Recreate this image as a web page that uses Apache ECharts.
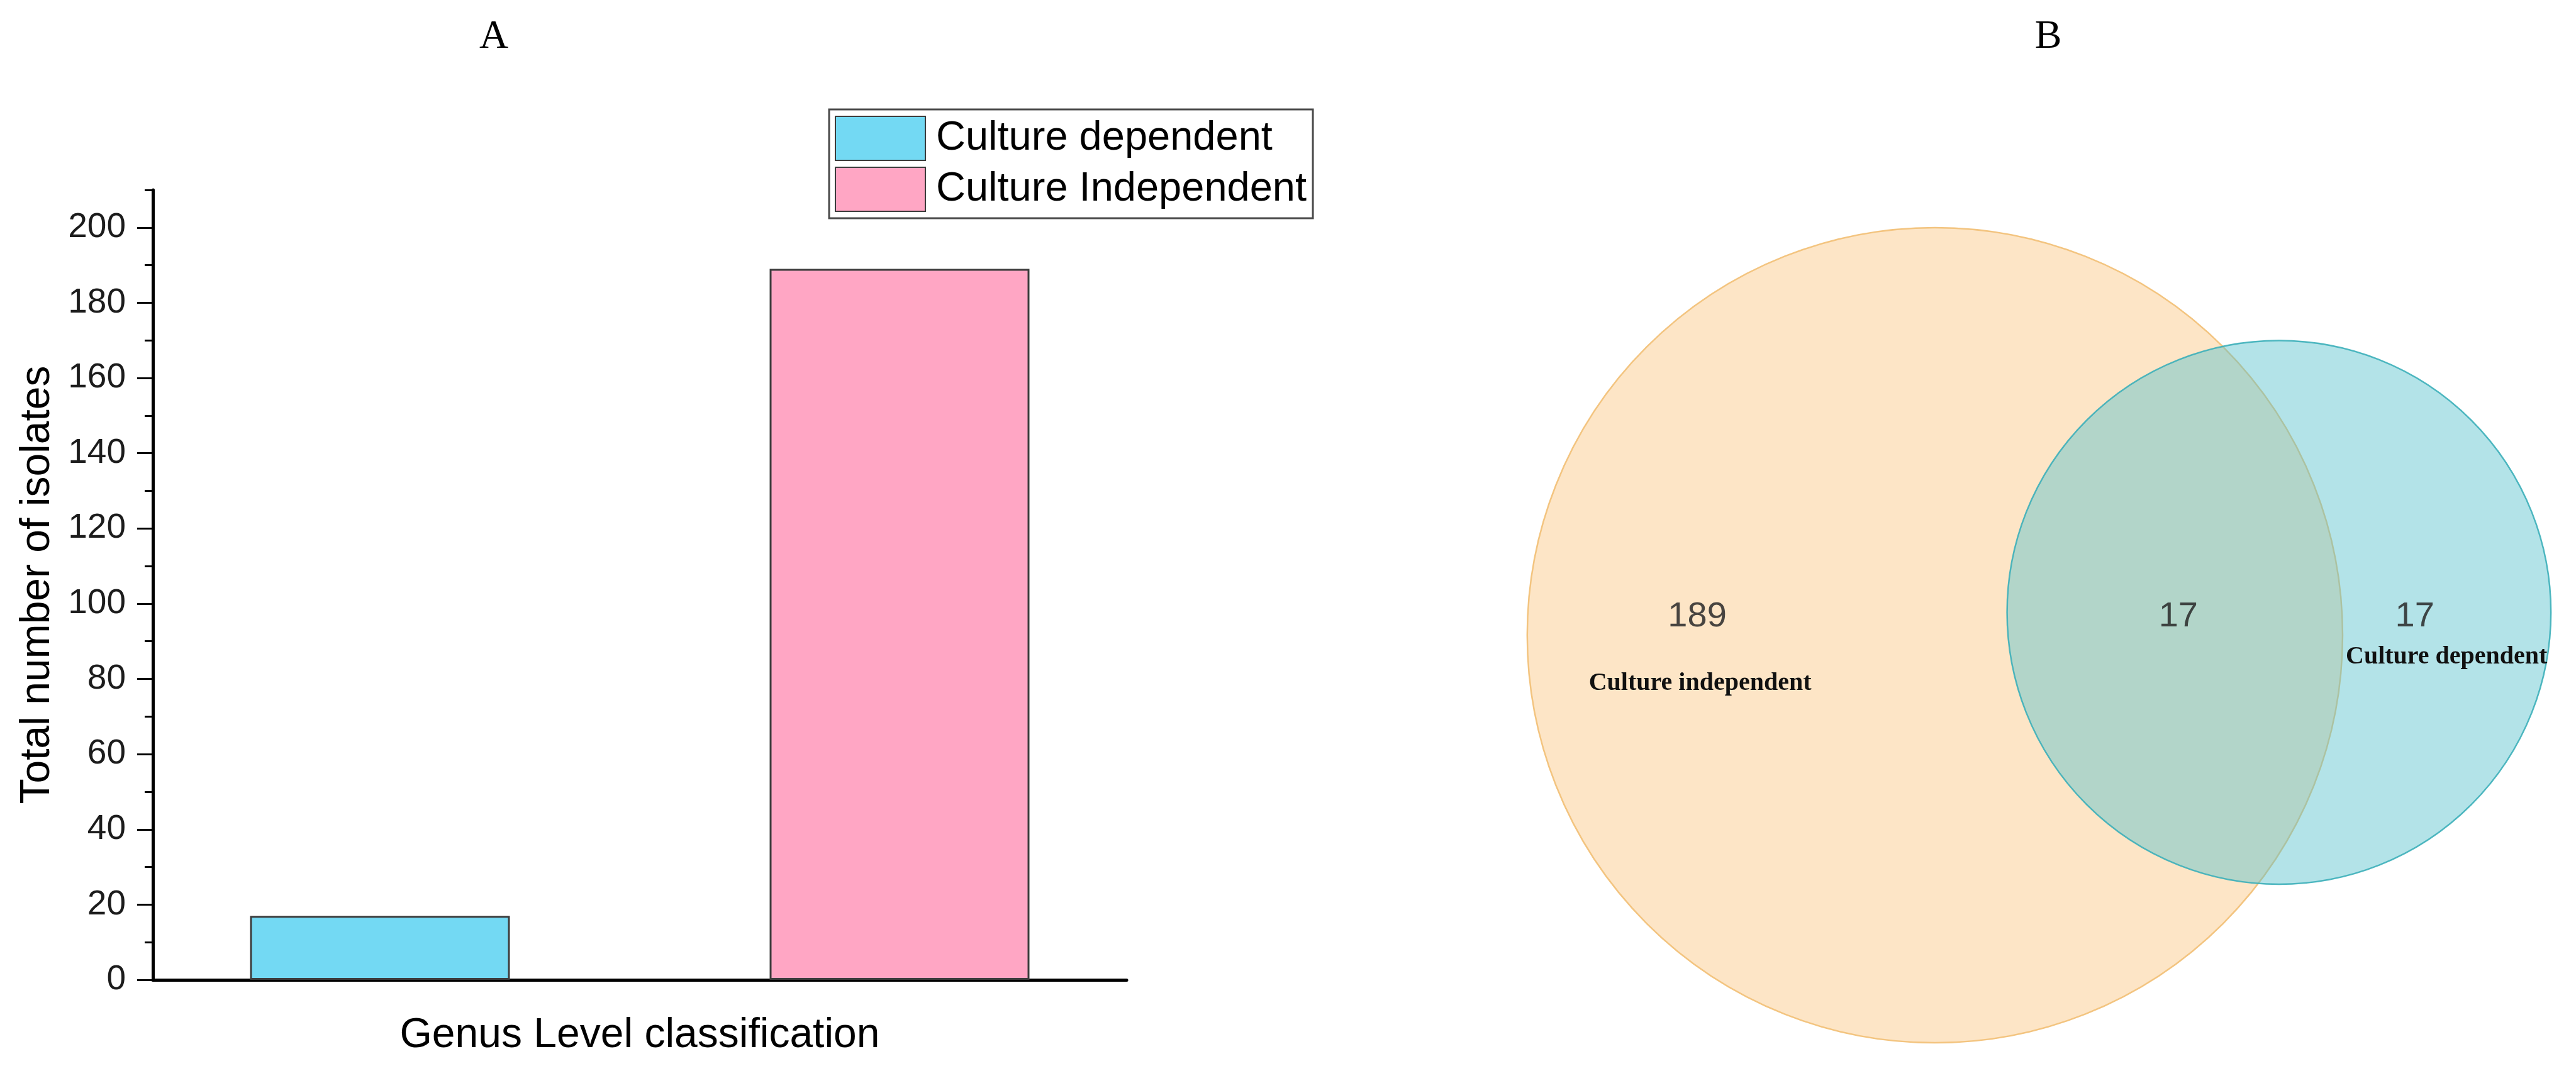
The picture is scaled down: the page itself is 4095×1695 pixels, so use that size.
<!DOCTYPE html>
<html>
<head>
<meta charset="utf-8">
<script src="https://cdn.jsdelivr.net/npm/echarts@6/dist/echarts.min.js"></script>
<style>
  html, body { margin: 0; padding: 0; background: #fff; }
  #chart { width: 4095px; height: 1695px; }
</style>
</head>
<body>
<div id="chart"></div>
<script>
// panel A: bar chart
const categories = [''];
const seriesNames = ['Culture dependent', 'Culture Independent'];
const seriesValues = [[17], [189]];
const yTicks = [0, 20, 40, 60, 80, 100, 120, 140, 160, 180, 200];

// panel B: venn counts
const vennSets = ['Culture independent', 'Culture dependent'];
const vennOnly = [189, 17];
const vennShared = [17];

// venn layout (units of the big circle radius)
const vennCircles = [
  { cx: 0, cy: 0, r: 1, fill: '#fde5c6', stroke: '#f3c47f' },
  { cx: 0.844, cy: 0.056, r: 0.667, fill: 'rgba(87,193,204,0.45)', stroke: 'rgba(60,175,185,0.9)' }
];
const vennCountPos = [[-0.583, 0.045], [1.177, 0.045]];
const vennSharedPos = [[0.597, 0.045]];
const vennNamePos = [[-0.576, -0.119], [1.255, -0.054]];

const sans = 'Liberation Sans, Arial, sans-serif';
const serif = 'Liberation Serif, Times New Roman, serif';
const barColors = ['#73d9f3', '#ffa6c4'];

const chart = echarts.init(document.getElementById('chart'));

const option = {
  backgroundColor: '#fff',
  animation: false,
  title: [
    { text: 'A', left: 780, top: 22, textAlign: 'center',
      textStyle: { fontFamily: serif, fontSize: 64, fontWeight: 'normal', color: '#000' } },
    { text: 'B', left: 3251, top: 22, textAlign: 'center',
      textStyle: { fontFamily: serif, fontSize: 64, fontWeight: 'normal', color: '#000' } }
  ],
  legend: {
    data: seriesNames,
    orient: 'vertical',
    left: 1318,
    top: 174,
    icon: 'rect',
    itemWidth: 143,
    itemHeight: 70,
    itemGap: 9,
    padding: [10, 10, 10, 9],
    borderColor: '#4a4a4a',
    borderWidth: 3,
    textStyle: { fontFamily: sans, fontSize: 65, color: '#000', padding: [0, 0, 0, 12] }
  },
  grid: [
    { left: 243, right: 2304, top: 302, bottom: 137 },
    { left: 2363, right: 47, top: 330, bottom: 5 }
  ],
  xAxis: [
    {
      type: 'category', gridIndex: 0, data: categories,
      name: 'Genus Level classification', nameLocation: 'middle', nameGap: 56,
      nameTextStyle: { fontFamily: sans, fontSize: 66, color: '#000' },
      axisLine: { lineStyle: { color: '#000', width: 5 } },
      axisTick: { alignWithLabel: true, length: 22, lineStyle: { color: '#000', width: 3 } },
      axisLabel: { show: false }
    },
    {
      type: 'category', gridIndex: 0, data: ['', ''], position: 'bottom',
      axisLine: { show: false },
      axisTick: { length: 12, lineStyle: { color: '#000', width: 3 } },
      axisLabel: { show: false }
    },
    { type: 'value', gridIndex: 1, min: -1.1, max: 1.5, show: false }
  ],
  yAxis: [
    {
      type: 'value', gridIndex: 0, min: 0, max: 210, interval: 20,
      name: 'Total number of isolates', nameLocation: 'middle', nameGap: 150,
      nameTextStyle: { fontFamily: sans, fontSize: 66, color: '#000' },
      axisLine: { show: true, lineStyle: { color: '#000', width: 5 } },
      axisTick: { show: true, length: 25, customValues: yTicks, lineStyle: { color: '#000', width: 3 } },
      axisLabel: { customValues: yTicks, margin: 43, fontFamily: sans, fontSize: 55, color: '#1c1c1c' },
      splitLine: { show: false }
    },
    {
      type: 'value', gridIndex: 0, min: 0, max: 210, interval: 10, position: 'left',
      axisLine: { show: false },
      axisTick: { show: true, length: 13, lineStyle: { color: '#000', width: 3 } },
      axisLabel: { show: false },
      splitLine: { show: false }
    },
    { type: 'value', gridIndex: 1, min: -1.05, max: 1.05, show: false }
  ],
  series: [
    ...seriesNames.map((name, i) => ({
      name: name,
      type: 'bar',
      xAxisIndex: 0,
      yAxisIndex: 0,
      data: seriesValues[i],
      barWidth: 413,
      barGap: '100%',
      itemStyle: { color: barColors[i], borderColor: '#3c3c3c', borderWidth: 3 }
    })),
    {
      type: 'custom',
      xAxisIndex: 2,
      yAxisIndex: 2,
      silent: true,
      data: vennCircles.map(c => [c.cx, c.cy, c.r]),
      renderItem: function (params, api) {
        const c = vennCircles[params.dataIndex];
        const p = api.coord([api.value(0), api.value(1)]);
        const r = api.size([api.value(2), 0])[0];
        return {
          type: 'circle',
          shape: { cx: p[0], cy: p[1], r: r },
          style: { fill: c.fill, stroke: c.stroke, lineWidth: 2.5 }
        };
      }
    },
    {
      type: 'custom',
      xAxisIndex: 2,
      yAxisIndex: 2,
      silent: true,
      data: vennOnly.map((v, i) => [vennCountPos[i][0], vennCountPos[i][1], v])
        .concat(vennShared.map((v, i) => [vennSharedPos[i][0], vennSharedPos[i][1], v])),
      renderItem: function (params, api) {
        const p = api.coord([api.value(0), api.value(1)]);
        return {
          type: 'text',
          style: {
            x: p[0], y: p[1], text: String(api.value(2)),
            align: 'center', verticalAlign: 'middle',
            font: '56px ' + sans, fill: 'rgba(40,40,40,0.85)'
          }
        };
      }
    },
    {
      type: 'custom',
      xAxisIndex: 2,
      yAxisIndex: 2,
      silent: true,
      data: vennSets.map((s, i) => [vennNamePos[i][0], vennNamePos[i][1], i]),
      renderItem: function (params, api) {
        const p = api.coord([api.value(0), api.value(1)]);
        return {
          type: 'text',
          style: {
            x: p[0], y: p[1], text: vennSets[api.value(2)],
            align: 'center', verticalAlign: 'middle',
            font: 'bold 40px ' + serif, fill: '#111'
          }
        };
      }
    }
  ]
};

chart.setOption(option);
</script>
</body>
</html>
